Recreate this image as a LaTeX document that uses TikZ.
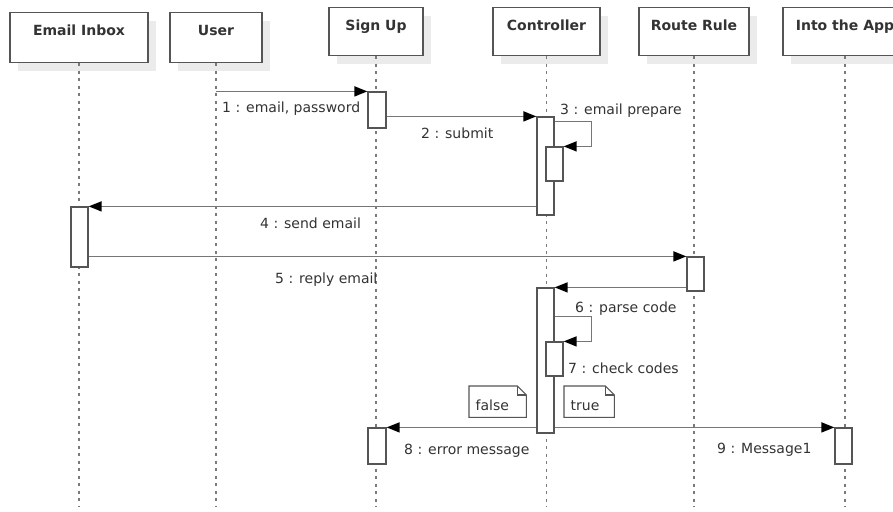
\documentclass[tikz,border=0pt]{standalone}
\usepackage{fontspec}
\setmainfont{DejaVu Sans}
\usetikzlibrary{arrows.meta,shadows}
\definecolor{msgc}{HTML}{767676}
\definecolor{boxc}{HTML}{555555}
\definecolor{llc}{HTML}{7A7A7A}
\definecolor{shc}{HTML}{EBEBEB}
\definecolor{txtc}{HTML}{333333}
\begin{document}
\begin{tikzpicture}[x=1pt,y=-1pt,
  head/.style={draw=boxc, line width=1.2pt, fill=white, anchor=north,
    inner ysep=0pt, inner xsep=0pt, text height=23pt,
    font=\fontsize{14pt}{16pt}\selectfont\bfseries, text=txtc,
    drop shadow={shadow xshift=8pt, shadow yshift=-8pt, fill=shc, opacity=1, draw=none}},
  lifeline/.style={draw=llc, line width=1.7pt, dash pattern=on 3pt off 4.5pt},
  act/.style={rectangle, draw=boxc, fill=white, line width=1.2pt, minimum width=17pt, inner sep=0pt},
  msg/.style={draw=msgc, line width=1.4pt, -{Triangle[length=13pt,width=10pt,color=black]}},
  lbl/.style={anchor=base west, inner sep=0pt, text=txtc, font=\fontsize{14pt}{16pt}\selectfont},
  notebox/.style={anchor=north west, inner xsep=6.5pt, inner ysep=0pt, text height=24pt, text depth=7pt,
    align=left, text=txtc, font=\fontsize{14pt}{16pt}\selectfont},
  noteline/.style={draw=boxc, line width=1.1pt, fill=white, line join=miter}
]
\clip (0,0) rectangle (893,511);
\fill[white] (0,0) rectangle (893,511);

% lifeline heads
\node[head, minimum width=138pt, text depth=27pt] (h1) at (79,12) {Email Inbox};
\node[head, minimum width=92pt,  text depth=27pt] (h2) at (216,12) {User};
\node[head, minimum width=94pt,  text depth=25pt] (h3) at (376,7) {Sign Up};
\node[head, minimum width=107pt, text depth=25pt] (h4) at (546.5,7) {Controller};
\node[head, minimum width=110pt, text depth=25pt] (h5) at (694,7) {Route Rule};
\node[head, minimum width=124pt, text depth=25pt] (h6) at (845,7) {Into the App};

\coordinate (bot) at (0,507);
\foreach \h in {h1,h2,h3,h4,h5,h6}
  \draw[lifeline] (\h.south) -- (\h.south |- bot);

% activations
\node[act, minimum width=18pt, minimum height=36pt] (a1) at (377,110) {};
\node[act, minimum height=98pt] (c1) at (545.5,166) {};
\node[act, minimum height=34pt] (c1n) at (554.5,164) {};
\node[act, minimum height=60pt] (e1) at (79.5,237) {};
\node[act, minimum height=34pt] (r1) at (695.5,274) {};
\node[act, minimum height=145pt] (c2) at (545.5,360.5) {};
\node[act, minimum height=34pt] (c2n) at (554.5,359) {};
\node[act, minimum width=18pt, minimum height=36pt] (a2) at (377,446) {};
\node[act, minimum height=36pt] (i1) at (843.5,446) {};

% messages
\draw[msg] (h2.south |- a1.north) -- (a1.north west);
\draw[msg] (a1.east |- c1.north) -- (c1.north west);
\draw[msg] ([yshift=-5pt]c1.north east) -- ++(37,0) |- (c1n.north east);
\draw[msg] (c1.west |- e1.north) -- (e1.north east);
\draw[msg] (e1.east |- r1.north) -- (r1.north west);
\draw[msg] (r1.west |- c2.north) -- (c2.north east);
\draw[msg] ([yshift=-29pt]c2.north east) -- ++(37,0) |- (c2n.north east);
\draw[msg] (c2.west |- a2.north) -- (a2.north east);
\draw[msg] (c2.east |- i1.north) -- (i1.north west);

% labels
\node[lbl] (l1) at (222,112) {1 : email, password};
\node[lbl] (l2) at (421,138) {2 : submit};
\node[lbl] (l3) at (560,114) {3 : email prepare};
\node[lbl] (l4) at (260,228) {4 : send email};
\node[lbl] (l5) at (275,283) {5 : reply email};
\node[lbl] (l6) at (575,312) {6 : parse code};
\node[lbl] (l7) at (568,373) {7 : check codes};
\node[lbl] (l8) at (404,454) {8 : error message};
\node[lbl] (l9) at (717,453) {9 : Message1};

% notes
\node[notebox, text width=44pt] (nf) at (469,386) {};
\draw[noteline] (nf.north west) -- ([xshift=-9pt]nf.north east) -- ([yshift=-9pt]nf.north east) -- (nf.south east) -- (nf.south west) -- cycle;
\draw[noteline, fill=none] ([xshift=-9pt]nf.north east) |- ([yshift=-9pt]nf.north east);
\node[notebox, text width=44pt] at (469,386) {false};

\node[notebox, text width=37pt] (nt) at (564,386) {};
\draw[noteline] (nt.north west) -- ([xshift=-9pt]nt.north east) -- ([yshift=-9pt]nt.north east) -- (nt.south east) -- (nt.south west) -- cycle;
\draw[noteline, fill=none] ([xshift=-9pt]nt.north east) |- ([yshift=-9pt]nt.north east);
\node[notebox, text width=37pt] at (564,386) {true};
\end{tikzpicture}
\end{document}
